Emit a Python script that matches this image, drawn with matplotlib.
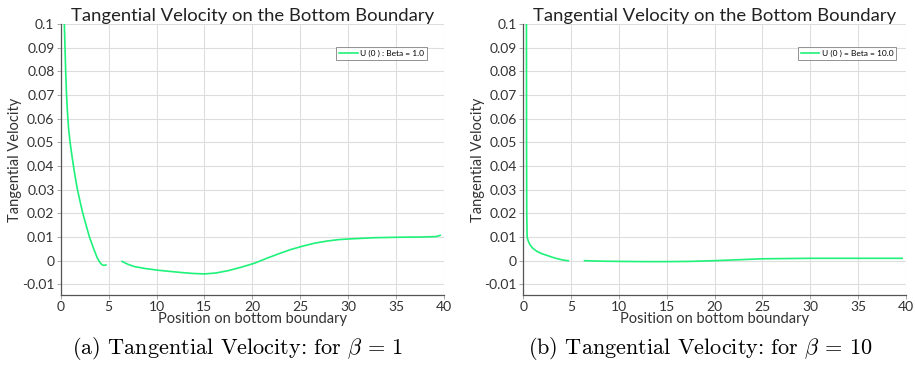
import numpy as np
import matplotlib
matplotlib.use("Agg")
import matplotlib.pyplot as plt

# ---- data ----
# beta = 1, first segment
b1_x1 = [0.38, 0.45, 0.52, 0.60, 0.70, 0.82, 0.98, 1.15, 1.33, 1.53, 1.75, 2.02, 2.31, 2.65, 3.00, 3.40, 3.78, 4.05, 4.30, 4.50, 4.72]
b1_y1 = [0.100, 0.090, 0.080, 0.071, 0.063, 0.056, 0.050, 0.045, 0.040, 0.035, 0.030, 0.025, 0.020, 0.015, 0.010, 0.0055, 0.0015, -0.0005, -0.0017, -0.0020, -0.0018]
# beta = 1, second segment
b1_x2 = [6.4, 7.0, 7.7, 8.8, 10.1, 11.3, 12.6, 13.8, 15.0, 16.2, 17.5, 18.8, 20.2, 21.5, 22.8, 24.0, 25.3, 26.5, 27.8, 29.0, 30.2, 32.7, 35.2, 37.7, 39.2, 39.6]
b1_y2 = [-0.0003, -0.0015, -0.0025, -0.0033, -0.0040, -0.0045, -0.0050, -0.0054, -0.0056, -0.0052, -0.0042, -0.0028, -0.0011, 0.0010, 0.0030, 0.0047, 0.0062, 0.0074, 0.0083, 0.0089, 0.0092, 0.0097, 0.0099, 0.0100, 0.0102, 0.0107]
# beta = 10, first segment
b10_x1 = [0.33, 0.34, 0.36, 0.40, 0.50, 0.70, 1.00, 1.40, 1.90, 2.50, 3.00, 3.50, 4.00, 4.40, 4.70]
b10_y1 = [0.100, 0.050, 0.020, 0.0100, 0.0085, 0.0067, 0.0052, 0.0040, 0.0030, 0.0022, 0.0015, 0.0009, 0.0004, 0.0001, 0.0000]
# beta = 10, second segment
b10_x2 = [6.4, 8.0, 10.0, 12.5, 15.0, 17.5, 20.0, 22.5, 25.0, 27.5, 30.0, 35.0, 39.6]
b10_y2 = [0.0000, -0.0002, -0.0003, -0.0004, -0.0004, -0.0003, 0.0000, 0.0004, 0.0008, 0.0009, 0.0010, 0.0010, 0.0010]

xticks = [0, 5, 10, 15, 20, 25, 30, 35, 40]
yticks = [-0.01, 0, 0.01, 0.02, 0.03, 0.04, 0.05, 0.06, 0.07, 0.08, 0.09, 0.1]
ytick_labels = ["-0.01", "0", "0.01", "0.02", "0.03", "0.04", "0.05", "0.06", "0.07", "0.08", "0.09", "0.1"]

title = "Tangential Velocity on the Bottom Boundary"
xlabel = "Position on bottom boundary"
ylabel = "Tangential Velocity"
legend_labels = ["U (0 ) : Beta = 1.0", "U (0 ) = Beta = 10.0"]
captions = [r"(a) Tangential Velocity: for $\beta\,=\,1$", r"(b) Tangential Velocity: for $\beta\,=\,10$"]

plt.rcParams['mathtext.fontset'] = 'cm'
FONT = ['Lato', 'DejaVu Sans']
GREEN = '#1ef27a'

fig = plt.figure(figsize=(9.15, 3.68), dpi=100)
ax_pos = [(60.7 / 915, 1 - 295 / 368, (444 - 60.7) / 915, (295 - 24) / 368),
          (523.3 / 915, 1 - 295 / 368, (906 - 523.3) / 915, (295 - 24) / 368)]
leg_x = [0.956, 0.974]

series = [((b1_x1, b1_y1), (b1_x2, b1_y2)), ((b10_x1, b10_y1), (b10_x2, b10_y2))]

for i, pos in enumerate(ax_pos):
    ax = fig.add_axes(pos)
    (xa, ya), (xb, yb) = series[i]
    ax.plot(xa, ya, color=GREEN, lw=1.2, label=legend_labels[i])
    ax.plot(xb, yb, color=GREEN, lw=1.2)
    ax.set_xlim(0, 40)
    ax.set_ylim(-0.0145, 0.1)
    ax.set_xticks(xticks)
    ax.set_xticklabels([str(t) for t in xticks], family=FONT, fontsize=10, color='#333333')
    ax.set_yticks(yticks)
    ax.set_yticklabels(ytick_labels, family=FONT, fontsize=10, color='#333333')
    ax.grid(True, color='#dddddd', lw=0.8)
    ax.set_axisbelow(True)
    for s in ['top', 'right']:
        ax.spines[s].set_visible(False)
    for s in ['left', 'bottom']:
        ax.spines[s].set_color('#555555')
        ax.spines[s].set_linewidth(0.9)
    ax.tick_params(length=3, width=0.6, color='#999999', pad=1.5)
    ax.set_title(title, family=FONT, fontsize=13.3, color='#222222', pad=1)
    ax.set_xlabel(xlabel, family=FONT, fontsize=10.5, color='#333333', labelpad=-1)
    ax.set_ylabel(ylabel, family=FONT, fontsize=10.5, color='#333333', labelpad=0)
    leg = ax.legend(loc='upper right', bbox_to_anchor=(leg_x[i], 0.915), prop={'family': FONT, 'size': 6},
                    frameon=True, fancybox=False, handlelength=2.2, handletextpad=0.3,
                    borderpad=0.35, borderaxespad=0)
    leg.get_frame().set_edgecolor('#777777')
    leg.get_frame().set_linewidth(0.7)
    cx = pos[0] + pos[2] / 2
    fig.text(cx - 0.016, 1 - 349 / 368, captions[i], ha='center', va='center',
             family='cmr10', fontsize=16, math_fontfamily='cm')

fig.savefig("out.png", dpi=100)
